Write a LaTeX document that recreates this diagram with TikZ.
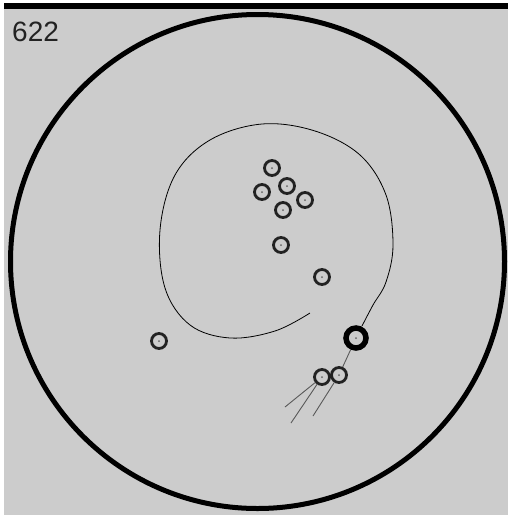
\documentclass[tikz,border=0pt]{standalone}
\usepackage{fontspec}
\setmainfont{Liberation Sans}
\definecolor{bg}{HTML}{CCCCCC}
\definecolor{ink}{HTML}{222222}
\tikzset{
  ring/.style={circle, draw=ink, line width=2.8pt, minimum size=15pt, inner sep=0pt},
  boldring/.style={circle, draw=black, line width=5.5pt, minimum size=20pt, inner sep=0pt},
  track/.style={draw=black, line width=0.8pt},
  trail/.style={draw=black!65, line width=0.9pt},
  dot/.style={circle, fill=ink!70, minimum size=2pt, inner sep=0pt}
}
\begin{document}
\begin{tikzpicture}[x=1pt, y=-1pt]
\useasboundingbox (0,0) rectangle (508,517);
\fill[white] (0,0) rectangle (508,517);
\fill[bg] (4,9) rectangle (508,515);
\fill[black] (4,3) rectangle (508,9);
\node[anchor=west, text=ink, font=\fontsize{28}{30}\selectfont, inner sep=0pt] (lbl) at (12,32) {622};
\node[circle, draw=black, line width=5pt, minimum size=494pt, inner sep=0pt] (dish) at (257.5,261.5) {};
% spiral track
\draw[track] plot[smooth, tension=0.6] coordinates {(310,313) (275,331) (230,338) (190,325) (165,288) (160,230) (175,175) (210,140) (262,124) (315,131) (360,155) (386,195) (393,245) (386,282) (373,305) (362,326)};
% rings
\node[ring] (r1) at (272,168) {};
\node[ring] (r2) at (262,192) {};
\node[ring] (r3) at (287,186) {};
\node[ring] (r4) at (305,200) {};
\node[ring] (r5) at (283,210) {};
\node[ring] (r6) at (281,245) {};
\node[ring] (r7) at (322,277) {};
\node[ring] (r8) at (159,341) {};
\node[ring] (r9) at (322,377) {};
\node[ring] (r10) at (339,375) {};
\node[boldring] (b) at (356,338) {};
\foreach \n in {r1,r2,r3,r4,r5,r6,r7,r8,r9,r10,b} \node[dot] at (\n.center) {};
% trails
\coordinate (e1) at (285,407);
\coordinate (e2) at (291,423);
\coordinate (e3) at (313,416);
\draw[trail] (b) -- (r10);
\draw[trail] (r9) -- (e1);
\draw[trail] (r9) -- (e2);
\draw[trail] (r10) -- (e3);
\end{tikzpicture}
\end{document}
